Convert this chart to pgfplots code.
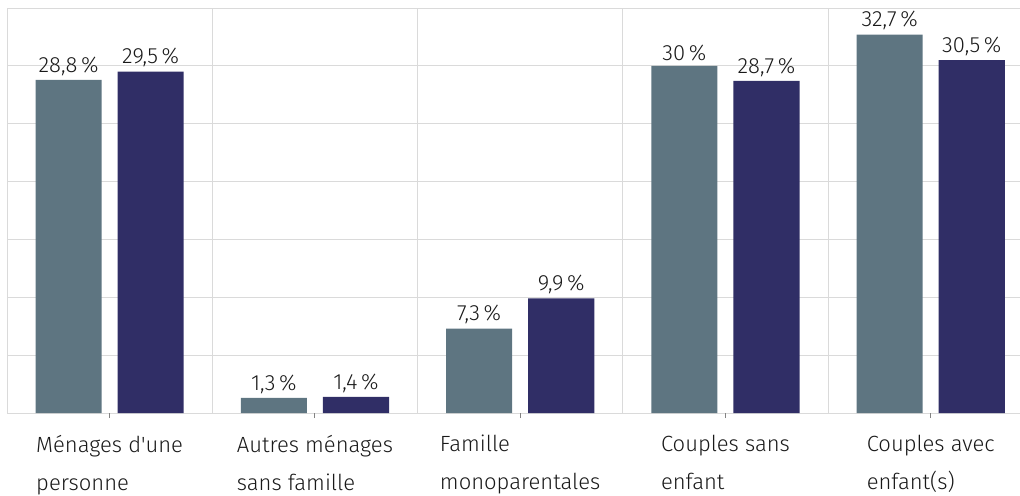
\documentclass[border=0pt]{standalone}
\usepackage{fontspec}
\setmainfont{Fira Sans Light}[Ligatures=TeXOff]
\usepackage{pgfplots}
\pgfplotsset{compat=1.18}
\definecolor{barA}{HTML}{5E7581}
\definecolor{barB}{HTML}{302E66}
\definecolor{gridc}{HTML}{DADADA}
\begin{document}
\begin{tikzpicture}
\useasboundingbox (-3.5pt,-41pt) rectangle (506.5pt,206.5pt);
\begin{axis}[
  at={(0,0)}, anchor=south west,
  scale only axis,
  width=506.5pt, height=202.5pt,
  ybar,
  xmin=-0.5, xmax=4.435,
  ymin=0, ymax=35,
  ytick={0,5,...,35},
  yticklabels={},
  ytick style={draw=none},
  xtick={0,1,2,3,4},
  minor xtick={-0.5,0.5,...,4.5},
  xticklabels={{Ménages d'une\\personne},{Autres ménages\\sans famille},{Famille\\monoparentales},{Couples sans\\enfant},{Couples avec\\enfant(s)}},
  xticklabel style={align=left, font=\fontsize{11}{19}\selectfont, yshift=-5pt, text=black!90},
  xtick pos=left,
  xtick align=outside,
  major tick length=2.5pt,
  minor tick length=0pt,
  x tick style={gridc!60!black, line width=0.5pt},
  ymajorgrids, xminorgrids,
  major grid style={gridc, line width=0.5pt},
  minor grid style={gridc, line width=0.5pt},
  axis line style={draw=none},
  clip=false,
  bar width=0.322,
  nodes near coords={\pgfmathprintnumber{\pgfplotspointmeta}\,\%},
  nodes near coords style={font=\fontsize{11}{12}\selectfont, text=black!90, inner sep=2pt},
  /pgf/number format/.cd, use comma, fixed, precision=1, assume math mode=true,
]
\addplot[fill=barA, draw=none, bar shift=-0.2] coordinates {(0,28.8) (1,1.3) (2,7.3) (3,30) (4,32.7)};
\addplot[fill=barB, draw=none, bar shift=0.2] coordinates {(0,29.5) (1,1.4) (2,9.9) (3,28.7) (4,30.5)};
\end{axis}
\end{tikzpicture}
\end{document}
